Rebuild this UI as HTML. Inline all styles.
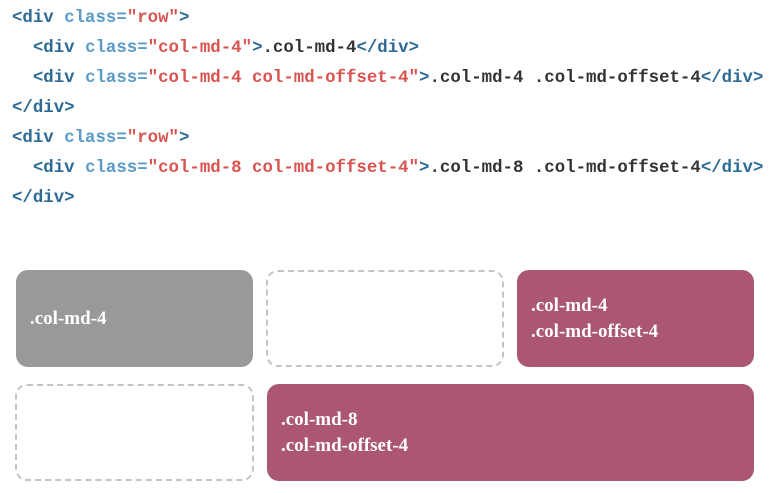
<!DOCTYPE html>
<html><head><style>
body{margin:0;width:783px;height:493px;background:#fff;position:relative;overflow:hidden}
.code{position:absolute;left:12px;top:0;font-family:"Liberation Mono",monospace;font-size:17.4px;line-height:30px;white-space:pre;color:#333;font-weight:bold;padding-top:4px}
.t{color:#2d6a96}.a{color:#5b9bc8}.s{color:#d9534f}
.b{position:absolute;box-sizing:border-box;border-radius:12px;font-family:"Liberation Serif",serif;font-weight:bold;color:#fff;font-size:19px;line-height:26px;padding-left:14px;display:flex;flex-direction:column;justify-content:center}
.g{background:#999}.m{background:#aa5674}.d{border:2px dashed #c4c4c4}
</style></head><body>
<div class="code"><span class="t">&lt;div</span> <span class="a">class=</span><span class="s">"row"</span><span class="t">&gt;</span>
  <span class="t">&lt;div</span> <span class="a">class=</span><span class="s">"col-md-4"</span><span class="t">&gt;</span>.col-md-4<span class="t">&lt;/div&gt;</span>
  <span class="t">&lt;div</span> <span class="a">class=</span><span class="s">"col-md-4 col-md-offset-4"</span><span class="t">&gt;</span>.col-md-4 .col-md-offset-4<span class="t">&lt;/div&gt;</span>
<span class="t">&lt;/div&gt;</span>
<span class="t">&lt;div</span> <span class="a">class=</span><span class="s">"row"</span><span class="t">&gt;</span>
  <span class="t">&lt;div</span> <span class="a">class=</span><span class="s">"col-md-8 col-md-offset-4"</span><span class="t">&gt;</span>.col-md-8 .col-md-offset-4<span class="t">&lt;/div&gt;</span>
<span class="t">&lt;/div&gt;</span></div>
<div class="b g" style="left:16px;top:270px;width:237px;height:97px">.col-md-4</div>
<div class="b d" style="left:266px;top:270px;width:238px;height:97px"></div>
<div class="b m" style="left:517px;top:270px;width:237px;height:97px">.col-md-4<br>.col-md-offset-4</div>
<div class="b d" style="left:15px;top:384px;width:239px;height:97px"></div>
<div class="b m" style="left:267px;top:384px;width:487px;height:97px">.col-md-8<br>.col-md-offset-4</div>
</body></html>
